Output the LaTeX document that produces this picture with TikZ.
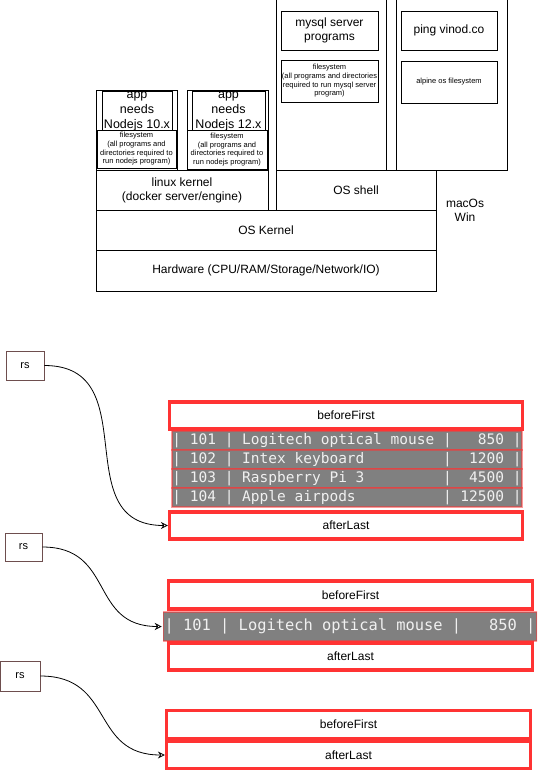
\documentclass[tikz,border=0pt]{standalone}
\usepackage{fontspec}
\setmainfont{Liberation Sans}
\setmonofont{DejaVu Sans Mono}
\usetikzlibrary{arrows.meta}
\definecolor{myred}{HTML}{FF3333}
\definecolor{rsbrown}{HTML}{6E4E4E}
\definecolor{rowgray}{HTML}{808080}

\begin{document}
\begin{tikzpicture}[x=1pt,y=-1pt,
    layer/.style={draw, line width=0.8pt, fill=white, align=center, inner sep=1pt, font=\fontsize{12}{14}\selectfont},
    tiny/.style={layer, inner xsep=0pt, font=\fontsize{7.5}{8.7}\selectfont},
    appbox/.style={layer, minimum height=40pt, inner sep=0pt, font=\fontsize{12.5}{15}\selectfont},
    rsbox/.style={draw=rsbrown, line width=0.7pt, fill=white, minimum width=38pt, minimum height=29pt, font=\fontsize{11}{13}\selectfont},
    ptr/.style={draw=myred, line width=3.2pt, fill=white, font=\fontsize{12}{14}\selectfont},
    rowbox/.style={fill=rowgray, draw=myred, draw opacity=.5, line width=2.5pt, text=black!6, inner sep=0pt, font=\ttfamily\fontsize{14.5}{17}\selectfont},
    link/.style={-{Stealth[open,length=7pt,width=7pt]}, line width=0.8pt, out=0, in=180, looseness=1.3}]
    \useasboundingbox (0,0) rectangle (541,773);

    % layers
    \node[layer, minimum width=340pt, minimum height=41pt] (hw) at (266,270.5) {Hardware (CPU/RAM/Storage/Network/IO)};
    \node[layer, minimum width=340pt, minimum height=40pt] (kernel) at (266,230) {OS Kernel};
    \node[layer, minimum width=172pt, minimum height=40pt] (linux) at (182,190) {linux kernel\\(docker server/engine)};
    \node[layer, minimum width=160pt, minimum height=40pt] (shell) at (356,190) {OS shell};
    \node[font=\fontsize{12}{14}\selectfont, align=center] (os) at (465,210) {macOs\\Win};

    % containers
    \node[layer, minimum width=81pt, minimum height=80pt] (app1box) at (136.5,130) {};
    \node[appbox, minimum width=70pt] (app1) at (137,111) {app\\needs\\Nodejs 10.x};
    \node[tiny, minimum width=79pt, minimum height=38pt] (fs1) at (136.5,149) {filesystem\\(all programs and\\directories required to\\run nodejs program)};

    \node[layer, minimum width=81pt, minimum height=80pt] (app2box) at (227.5,130) {};
    \node[appbox, minimum width=73pt] (app2) at (228.5,111) {app\\needs\\Nodejs 12.x};
    \node[tiny, minimum width=80pt, minimum height=39pt] (fs2) at (227,149.5) {filesystem\\(all programs and\\directories required to\\run nodejs program)};

    \node[layer, minimum width=110pt, minimum height=175pt] (mysqlbox) at (331,82.5) {};
    \node[layer, minimum width=97pt, minimum height=39pt] (mysql) at (329.5,30.5) {mysql server\\programs};
    \node[tiny, minimum width=97pt, minimum height=42pt] (mysqlfs) at (329.5,81) {filesystem\\(all programs and directories\\required to run mysql server\\program)};

    \node[layer, minimum width=111pt, minimum height=175pt] (pingbox) at (451.5,82.5) {};
    \node[layer, minimum width=96pt, minimum height=39pt] (ping) at (449,30.5) {ping vinod.co};
    \node[tiny, minimum width=96pt, minimum height=42pt] (alpine) at (449,82) {alpine os filesystem};

    % result sets
    \node[rsbox] (rs1) at (25,365.5) {rs};
    \node[ptr, minimum width=353pt, minimum height=27pt] (bf1) at (346,415.5) {beforeFirst};
    \foreach \i/\y/\txt in {1/440.5/{|~101~|~Logitech~optical~mouse~|~~~850~|},
                            2/459.5/{|~102~|~Intex~keyboard~~~~~~~~~|~~1200~|},
                            3/478.5/{|~103~|~Raspberry~Pi~3~~~~~~~~~|~~4500~|},
                            4/497.5/{|~104~|~Apple~airpods~~~~~~~~~~|~12500~|}}
        \node[rowbox, minimum width=350pt, minimum height=19pt] (r\i) at (347,\y) {\txt};
    \node[ptr, minimum width=353pt, minimum height=27pt] (al1) at (346,525.5) {afterLast};
    \draw[link] (rs1.east) to (al1.west);

    \node[rsbox, minimum width=37pt, minimum height=28pt] (rs2) at (23.5,547) {rs};
    \node[ptr, minimum width=364pt, minimum height=28pt] (bf2) at (350.5,595) {beforeFirst};
    \begin{scope}
        \clip (163,611) rectangle (537,642);
        \node[rowbox, font=\ttfamily\fontsize{15.4}{18}\selectfont, minimum width=374pt, minimum height=29pt] (row) at (350,626.5) {|~101~|~Logitech~optical~mouse~|~~~850~|};
    \end{scope}
    \node[ptr, minimum width=364pt, minimum height=27pt] (al2) at (350.5,656.5) {afterLast};
    \draw[link] (rs2.east) to (row.west);

    \node[rsbox, minimum width=40pt, minimum height=30pt] (rs3) at (20,676) {rs};
    \node[ptr, minimum width=364pt, minimum height=28pt] (bf3) at (348.5,724.5) {beforeFirst};
    \node[ptr, minimum width=364pt, minimum height=27pt] (al3) at (348.5,755) {afterLast};
    \draw[link] (rs3.east) to (al3.west);
\end{tikzpicture}
\end{document}
